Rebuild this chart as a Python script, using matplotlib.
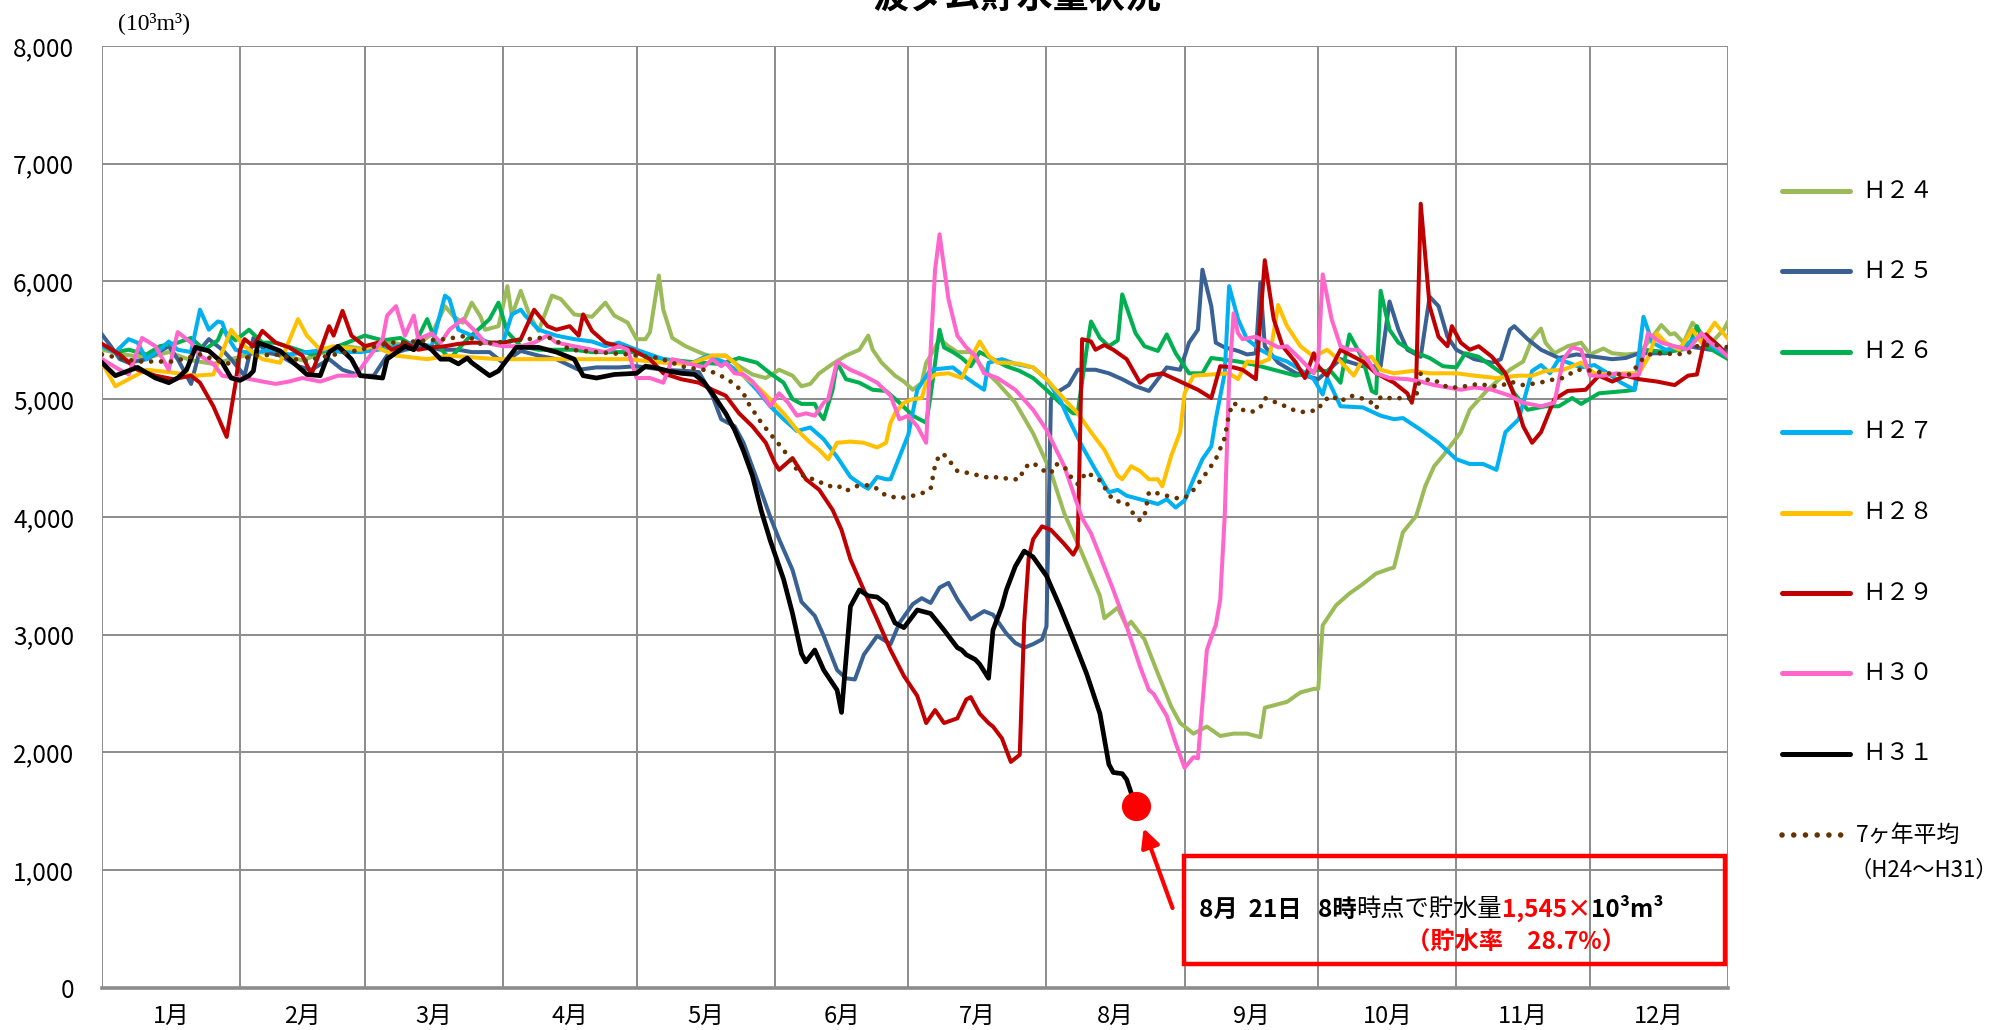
import matplotlib
matplotlib.use('Agg')
import matplotlib.pyplot as plt
from matplotlib.lines import Line2D
from matplotlib.patches import Rectangle
from matplotlib.ticker import FuncFormatter
import numpy as np

# フォント設定
plt.rcParams['font.family'] = ['Noto Sans CJK JP', 'DejaVu Sans']
plt.rcParams['axes.unicode_minus'] = False

# ---- データ (日 = 1月1日からの日数, 貯水量 10^3 m^3) ----
month_labels = ['1月', '2月', '3月', '4月', '5月', '6月', '7月', '8月', '9月', '10月', '11月', '12月']
month_days = [31, 28, 31, 30, 31, 30, 31, 31, 30, 31, 30, 31]

h24 = [(0,5420),(5,5380),(10,5350),(15,5400),(20,5330),(25,5300),(30,5350),(35,5400),(40,5380),(45,5330),
       (50,5400),(55,5450),(60,5420),(65,5480),(70,5450),(74,5550),(77,5790),(79,5700),(81,5650),(83,5820),
       (85,5700),(86,5590),(89,5620),(90,5790),(91,5960),(92,5710),(94,5920),(96,5710),(98,5580),(101,5880),
       (103,5850),(106,5720),(108,5710),(110,5700),(113,5820),(115,5710),(118,5650),(120,5510),(122,5510),(123,5570),
       (125,6050),(126,5760),(128,5520),(131,5450),(134,5400),(136,5370),(140,5370),(143,5280),(146,5210),(149,5180),
       (152,5250),(155,5200),(157,5110),(159,5130),(161,5220),(164,5300),(167,5370),(170,5420),(172,5540),(173,5420),
       (175,5310),(178,5200),(180,5150),(182,5080),(184,5140),(185,5310),(186,5370),(188,5510),(190,5450),(192,5400),
       (195,5400),(198,5250),(201,5140),(205,4970),(209,4710),(213,4380),(216,4030),(220,3690),(224,3330),(225,3140),
       (228,3230),(230,3070),(231,3110),(234,2960),(237,2670),(240,2390),(242,2250),(245,2160),(248,2220),(251,2140),
       (254,2160),(257,2160),(260,2130),(261,2380),(263,2400),(266,2430),(269,2510),(272,2540),(273,2540),(274,3080),
       (277,3250),(280,3350),(283,3430),(286,3520),(289,3560),(290,3570),(292,3870),(295,4010),(297,4260),(299,4430),
       (301,4520),(305,4720),(307,4910),(311,5080),(316,5250),(319,5320),(321,5510),(323,5600),(324,5480),(326,5390),
       (329,5450),(332,5480),(334,5380),(337,5430),(339,5390),(342,5380),(345,5390),(348,5530),(350,5630),(352,5550),
       (353,5560),(355,5480),(357,5650),(359,5560),(361,5450),(362,5510),(364,5590),(365,5660)]

h25 = [(0,5550),(2,5450),(4,5340),(6,5310),(10,5340),(15,5450),(17,5340),(20,5130),(22,5420),(24,5510),
       (27,5420),(29,5340),(32,5200),(34,5520),(37,5400),(40,5370),(44,5280),(47,5250),(51,5340),(54,5250),
       (58,5200),(61,5200),(64,5370),(68,5420),(73,5450),(76,5420),(80,5420),(83,5400),(87,5400),(90,5310),
       (94,5410),(98,5370),(102,5340),(107,5250),(111,5270),(116,5270),(120,5280),(126,5250),(131,5240),(134,5230),
       (137,5030),(139,4830),(142,4770),(144,4630),(147,4320),(150,4000),(152,3810),(155,3550),(157,3280),(160,3160),
       (162,2990),(165,2700),(167,2630),(169,2620),(171,2830),(174,2990),(177,2920),(179,3100),(182,3260),(184,3310),
       (186,3270),(188,3400),(190,3440),(192,3300),(195,3130),(198,3200),(200,3170),(203,3010),(205,2930),(207,2890),
       (209,2920),(211,2960),(212,3070),(213,5000),(214,5050),(217,5120),(219,5250),(223,5250),(226,5220),(229,5170),
       (232,5110),(235,5070),(237,5170),(239,5270),(242,5250),(244,5480),(246,5590),(247,6100),(249,5790),(250,5480),
       (252,5440),(255,5410),(257,5380),(259,5390),(260,5990),(261,5450),(264,5310),(268,5220),(273,5170),(278,5340),
       (283,5280),(287,5280),(289,5830),(291,5590),(293,5420),(296,5360),(298,5870),(300,5790),(302,5530),(304,5420),
       (308,5340),(312,5310),(314,5340),(316,5590),(317,5620),(320,5510),(323,5420),(327,5350),(331,5380),(335,5360),
       (339,5340),(342,5350),(345,5390),(351,5390),(356,5450),(361,5420),(365,5420)]

h26 = [(0,5450),(3,5400),(6,5420),(10,5380),(13,5450),(17,5480),(20,5520),(23,5420),(26,5500),(27,5590),
       (30,5500),(33,5590),(36,5480),(39,5480),(44,5420),(47,5380),(51,5420),(55,5480),(59,5540),(63,5500),
       (67,5520),(70,5450),(73,5680),(75,5480),(78,5340),(82,5510),(85,5610),(87,5680),(89,5820),(91,5570),
       (94,5450),(98,5420),(102,5420),(106,5420),(110,5400),(114,5400),(119,5400),(126,5340),(134,5310),(139,5300),
       (143,5350),(147,5310),(150,5220),(153,5140),(155,5000),(157,4960),(160,4960),(161,4880),(162,4830),(164,5080),
       (165,5310),(167,5170),(170,5140),(173,5080),(176,5070),(179,4970),(182,4860),(185,4800),(186,5030),(188,5590),
       (189,5440),(191,5400),(193,5350),(195,5280),(197,5400),(200,5340),(203,5280),(206,5240),(209,5180),(212,5080),
       (215,4970),(218,4880),(219,4880),(221,5420),(222,5660),(224,5520),(226,5450),(228,5500),(229,5890),(232,5560),
       (234,5450),(237,5410),(239,5550),(241,5390),(244,5220),(247,5220),(249,5350),(251,5340),(255,5320),(259,5290),
       (263,5250),(268,5200),(273,5250),(276,5230),(278,5140),(280,5550),(283,5340),(285,5070),(286,5050),(287,5920),
       (289,5590),(291,5480),(294,5410),(298,5350),(301,5280),(304,5270),(306,5390),(309,5360),(312,5280),(315,5200),
       (317,5050),(320,4910),(324,4940),(327,4940),(330,5010),(332,4960),(336,5050),(342,5070),(344,5080),(346,5420),
       (351,5400),(356,5430),(358,5620),(360,5450),(365,5340)]

h27 = [(0,5450),(3,5400),(6,5510),(8,5480),(10,5340),(13,5420),(15,5490),(17,5420),(20,5400),(22,5760),
       (24,5590),(26,5660),(27,5650),(28,5540),(30,5420),(32,5400),(35,5400),(38,5420),(42,5380),(46,5400),
       (50,5420),(54,5400),(58,5400),(62,5420),(66,5450),(70,5480),(74,5450),(77,5880),(78,5850),(80,5590),
       (83,5540),(87,5480),(90,5480),(92,5720),(94,5760),(95,5710),(98,5590),(102,5540),(106,5510),(110,5490),
       (113,5450),(116,5480),(120,5420),(126,5340),(132,5300),(136,5370),(140,5310),(144,5200),(147,5080),(150,4940),
       (153,4830),(156,4730),(159,4760),(162,4660),(165,4510),(168,4340),(171,4260),(172,4240),(174,4340),(176,4320),
       (177,4320),(179,4510),(181,4700),(183,5080),(186,5250),(191,5270),(193,5210),(196,5130),(198,5080),(199,5310),
       (202,5340),(205,5300),(209,5270),(212,5170),(215,5000),(217,4830),(220,4600),(223,4400),(226,4210),(228,4230),
       (230,4180),(233,4150),(237,4110),(239,4150),(241,4080),(243,4140),(245,4320),(247,4490),(249,4600),(250,4830),
       (252,5220),(253,5960),(255,5680),(257,5510),(260,5420),(263,5360),(266,5320),(269,5250),(272,5170),(274,5040),
       (275,5180),(278,4940),(283,4930),(287,4860),(290,4830),(292,4840),(296,4740),(300,4630),(304,4490),(307,4450),
       (310,4450),(313,4400),(315,4720),(318,4830),(321,5240),(323,5290),(325,5220),(327,5340),(332,5270),(335,5290),
       (338,5220),(341,5140),(344,5080),(346,5700),(348,5480),(351,5420),(355,5450),(358,5530),(361,5460),(365,5360)]

h28 = [(0,5310),(3,5110),(6,5170),(10,5250),(15,5230),(21,5200),(25,5210),(29,5590),(32,5450),(36,5340),
       (40,5310),(44,5680),(46,5540),(49,5420),(52,5450),(58,5420),(61,5450),(66,5370),(73,5340),(78,5370),
       (85,5350),(89,5340),(94,5340),(102,5340),(110,5340),(118,5340),(126,5310),(132,5300),(137,5370),(140,5370),
       (142,5310),(144,5200),(147,5110),(150,5000),(153,4880),(156,4740),(159,4630),(161,4570),(163,4490),(165,4630),
       (168,4640),(171,4630),(174,4590),(176,4630),(177,4800),(178,4880),(180,4970),(182,5000),(184,5010),(185,5140),
       (187,5210),(190,5220),(193,5180),(195,5340),(197,5490),(199,5370),(201,5310),(203,5310),(206,5300),(209,5270),
       (212,5170),(216,5000),(219,4880),(222,4720),(225,4570),(228,4350),(229,4320),(231,4430),(233,4390),(235,4320),
       (237,4320),(238,4260),(240,4520),(242,4720),(243,5050),(245,5200),(249,5210),(253,5220),(255,5170),(257,5320),
       (260,5310),(262,5340),(264,5800),(266,5620),(269,5450),(272,5360),(275,5420),(278,5320),(281,5200),(283,5340),
       (285,5360),(287,5250),(290,5220),(294,5240),(298,5220),(304,5220),(308,5200),(313,5180),(318,5200),(321,5200),
       (324,5240),(328,5250),(332,5310),(335,5220),(339,5210),(342,5220),(345,5220),(347,5350),(349,5560),(351,5480),
       (354,5420),(357,5590),(359,5480),(362,5650),(365,5510)]

h29 = [(0,5470),(4,5380),(8,5250),(12,5200),(16,5170),(20,5200),(22,5140),(25,4940),(28,4680),(30,5140),
       (31,5420),(32,5510),(34,5450),(36,5580),(39,5480),(42,5440),(45,5370),(47,5210),(49,5410),(51,5620),
       (52,5540),(54,5750),(56,5540),(59,5450),(63,5490),(65,5420),(67,5450),(68,5480),(71,5420),(74,5440),
       (77,5450),(80,5470),(83,5480),(87,5480),(90,5480),(94,5510),(97,5760),(100,5620),(102,5590),(105,5620),
       (107,5540),(108,5720),(110,5580),(113,5480),(116,5450),(119,5420),(123,5340),(126,5220),(130,5170),(134,5140),
       (137,5080),(140,5030),(143,4880),(146,4770),(149,4630),(151,4460),(152,4400),(155,4500),(158,4320),(161,4230),
       (164,4060),(166,3890),(168,3640),(171,3380),(174,3130),(177,2870),(180,2650),(183,2480),(185,2250),(187,2360),
       (189,2250),(192,2290),(194,2450),(195,2470),(197,2330),(199,2250),(200,2220),(202,2120),(204,1920),(206,1980),
       (207,3100),(208,3650),(209,3810),(211,3920),(213,3890),(216,3770),(218,3680),(219,3750),(220,5510),(222,5490),
       (223,5420),(225,5460),(227,5420),(230,5340),(233,5140),(235,5200),(238,5220),(242,5150),(246,5080),(249,5010),
       (251,5280),(254,5270),(256,5250),(259,5170),(261,6180),(263,5680),(265,5450),(268,5310),(270,5180),(272,5390),
       (273,5280),(275,5200),(278,5420),(280,5380),(283,5320),(286,5220),(290,5140),(293,5050),(294,4970),(295,5170),
       (296,6660),(298,5790),(300,5530),(302,5450),(303,5620),(305,5480),(307,5420),(309,5450),(312,5360),(315,5220),
       (317,5030),(319,4770),(321,4630),(323,4720),(326,5000),(329,5070),(333,5080),(336,5200),(339,5150),(342,5200),
       (345,5170),(349,5150),(353,5120),(356,5200),(358,5210),(360,5550),(363,5450),(365,5360)]

h30 = [(0,5340),(4,5250),(6,5210),(9,5520),(12,5450),(15,5250),(17,5570),(20,5480),(22,5370),(25,5300),
       (27,5200),(30,5180),(32,5180),(36,5150),(39,5130),(42,5150),(45,5180),(49,5150),(53,5200),(57,5200),
       (59,5310),(63,5510),(64,5710),(66,5790),(68,5540),(70,5710),(71,5510),(74,5560),(76,5480),(78,5590),
       (81,5680),(84,5570),(86,5480),(90,5450),(94,5450),(97,5480),(100,5540),(102,5480),(106,5450),(110,5420),
       (113,5400),(116,5450),(118,5420),(120,5180),(123,5180),(126,5140),(128,5340),(131,5310),(135,5270),(137,5340),
       (139,5280),(140,5310),(142,5220),(144,5210),(146,5150),(149,5000),(150,4940),(152,5050),(154,4970),(156,4860),
       (158,4880),(160,4860),(162,4970),(163,5000),(165,5320),(168,5250),(171,5200),(174,5140),(177,5030),(179,4830),
       (181,4860),(183,4770),(185,4630),(186,5420),(187,6100),(188,6400),(190,5850),(192,5540),(194,5440),(196,5370),
       (198,5220),(201,5180),(205,5080),(209,4910),(212,4740),(216,4430),(220,3990),(222,3860),(224,3670),(227,3380),
       (230,3070),(233,2730),(235,2530),(236,2500),(239,2310),(241,2080),(243,1870),(245,1960),(246,1950),(248,2870),
       (249,2980),(250,3080),(251,3300),(252,4000),(253,5170),(254,5730),(255,5560),(256,5510),(259,5530),(262,5480),
       (264,5440),(266,5450),(269,5340),(272,5220),(273,5340),(274,6060),(276,5680),(278,5450),(280,5420),(282,5420),
       (284,5340),(286,5220),(289,5180),(293,5170),(296,5150),(299,5120),(302,5100),(305,5080),(308,5100),(312,5080),
       (316,5030),(319,4970),(323,4940),(326,4970),(328,5340),(330,5440),(332,5420),(334,5200),(337,5200),(340,5220),
       (343,5200),(345,5210),(347,5560),(350,5480),(353,5450),(356,5420),(359,5560),(361,5480),(363,5430),(365,5360)]

h31 = [(0,5310),(3,5200),(8,5270),(12,5180),(15,5140),(17,5180),(19,5250),(21,5440),(24,5410),(27,5310),
       (29,5180),(31,5160),(33,5200),(34,5240),(35,5480),(38,5440),(40,5410),(43,5310),(46,5210),(49,5200),
       (51,5400),(53,5450),(56,5340),(58,5200),(63,5180),(64,5340),(68,5450),(70,5420),(71,5490),(74,5420),
       (76,5340),(78,5340),(80,5300),(82,5350),(83,5310),(87,5200),(89,5240),(93,5440),(98,5440),(102,5400),
       (106,5340),(108,5200),(111,5180),(115,5210),(120,5220),(122,5280),(124,5270),(127,5240),(130,5220),(133,5210),
       (135,5150),(137,5050),(140,4880),(142,4740),(144,4560),(146,4350),(148,4050),(150,3800),(153,3470),(155,3180),
       (157,2840),(158,2770),(160,2870),(162,2700),(165,2530),(166,2340),(168,3240),(170,3380),(172,3330),(174,3320),
       (176,3260),(178,3100),(180,3060),(183,3210),(186,3180),(189,3040),(192,2890),(193,2870),(194,2830),(196,2790),
       (197,2750),(199,2630),(200,3040),(202,3240),(203,3380),(205,3580),(207,3710),(209,3660),(212,3500),(215,3240),
       (218,2960),(221,2670),(224,2330),(226,1900),(227,1830),(229,1820),(230,1770),(232,1545)]

avg7 = [(0,5380),(8,5320),(16,5320),(22,5380),(28,5300),(34,5370),(40,5380),(45,5320),(51,5370),(58,5420),
        (65,5480),(70,5490),(77,5510),(82,5540),(85,5470),(91,5490),(98,5520),(101,5520),(105,5420),(111,5400),
        (118,5380),(125,5350),(131,5270),(135,5250),(138,5220),(142,5130),(144,5050),(145,4970),(148,4800),(151,4660),
        (153,4570),(156,4400),(158,4330),(160,4320),(163,4260),(165,4270),(167,4220),(169,4260),(172,4270),(174,4240),
        (176,4180),(179,4160),(181,4170),(184,4200),(186,4240),(187,4440),(188,4530),(189,4530),(191,4440),(192,4390),
        (195,4370),(198,4340),(200,4330),(201,4340),(204,4320),(206,4320),(207,4420),(209,4460),(211,4400),(213,4370),
        (214,4450),(216,4430),(217,4360),(219,4280),(221,4380),(224,4310),(227,4140),(230,4120),(231,4050),(233,3970),
        (234,4010),(235,4210),(236,4210),(238,4190),(241,4160),(243,4160),(245,4230),(248,4380),(250,4490),(252,4670),
        (253,4880),(254,4970),(256,4910),(258,4890),(260,4930),(261,5010),(263,4980),(265,4950),(268,4900),(270,4890),
        (273,4910),(274,4980),(276,5030),(278,4980),(280,5030),(282,5020),(285,4970),(286,4920),(287,5020),(289,5010),
        (291,5010),(293,5000),(295,5030),(296,5220),(298,5150),(300,5150),(302,5100),(304,5100),(306,5110),(309,5130),
        (312,5110),(314,5110),(316,5150),(319,5120),(321,5130),(324,5150),(326,5170),(328,5180),(331,5250),(333,5250),
        (336,5230),(338,5220),(341,5210),(343,5210),(346,5350),(348,5390),(351,5390),(353,5380),(356,5390),(358,5450),
        (360,5460),(363,5460),(365,5440)]

series_names = ['Ｈ２４', 'Ｈ２５', 'Ｈ２６', 'Ｈ２７', 'Ｈ２８', 'Ｈ２９', 'Ｈ３０', 'Ｈ３１']
series_data = [h24, h25, h26, h27, h28, h29, h30, h31]
series_colors = ['#9BBB59', '#3A6193', '#00B050', '#00B0F0', '#FFC000', '#C00000', '#FF66CC', '#000000']

latest_day, latest_value = h31[-1]
latest_rate = 28.7

# ---- 図 ----
fig = plt.figure(figsize=(19.99, 10.30), dpi=100)
ax = fig.add_axes([0.051, 0.0408, 0.8135, 0.9146])

for name, data, color in zip(series_names, series_data, series_colors):
    d, v = zip(*data)
    lw = 3.4 if color == '#000000' else 2.9
    ax.plot(d, v, color=color, lw=lw, solid_joinstyle='round', zorder=3)

d, v = zip(*avg7)
ax.plot(d, v, color='#663300', lw=3.4, linestyle=(0, (0.01, 2.1)), dash_capstyle='round', zorder=4)

# 最新値
ax.plot(latest_day, latest_value, 'o', color='#FF0000', markersize=20, zorder=6)

# 軸
month_starts = np.concatenate([[0], np.cumsum(month_days)])
month_mids = (month_starts[:-1] + month_starts[1:]) / 2
ax.set_xlim(0, 365)
ax.set_ylim(0, 8000)
ax.set_xticks(month_starts)
ax.set_xticklabels([])
ax.set_xticks(month_mids, minor=True)
ax.set_xticklabels(month_labels, minor=True)
ax.tick_params(axis='x', which='both', length=0, pad=12, labelsize=17)
ax.set_yticks(np.arange(0, 8001, 1000))
ax.yaxis.set_major_formatter(FuncFormatter(lambda val, pos: f'{val:,.0f}'))
ax.tick_params(axis='y', length=0, pad=20, labelsize=17.5)
ax.grid(True, which='major', color='#8C8C8C', lw=1.4, zorder=0)
ax.set_axisbelow(True)
for s in ['left', 'right', 'top']:
    ax.spines[s].set_visible(False)
ax.spines['bottom'].set_color('#8C8C8C')
ax.spines['bottom'].set_linewidth(2.6)

# タイトル (上端で切れている)
fig.text(1017 / 1999, 1 - 8 / 1030, '波ダム貯水量状況', ha='center', va='baseline',
         fontsize=26, fontweight='bold')
fig.text(154 / 1999, 1 - 23 / 1030, '(10³m³)', ha='center', va='center', fontsize=17,
         family=['Liberation Serif', 'DejaVu Serif'])

# 凡例
for i, (name, color) in enumerate(zip(series_names, series_colors)):
    yf = 1 - (191 + 80.4 * i) / 1030
    fig.add_artist(Line2D([1782 / 1999, 1850 / 1999], [yf, yf], color=color, lw=3.6,
                          solid_capstyle='round'))
    fig.text(1862 / 1999, yf, name, ha='left', va='center', fontsize=17)
yf = 1 - 835 / 1030
fig.add_artist(Line2D([1782 / 1999, 1846 / 1999], [yf, yf], color='#663300', lw=4.0,
                      linestyle=(0, (0.01, 2.1)), dash_capstyle='round'))
fig.text(1856 / 1999, yf, '7ヶ年平均', ha='left', va='center', fontsize=16.5)
fig.text(1850 / 1999, 1 - 870 / 1030, '（H24〜H31）', ha='left', va='center', fontsize=16)

# 注記ボックス
fig.add_artist(Rectangle((1184 / 1999, 1 - 964 / 1030), 541 / 1999, 108 / 1030,
                         transform=fig.transFigure, fill=False, edgecolor='#FF0000', lw=3.2))

pieces = [('8月  21日   8時', 'black', 'bold'),
          ('時点で貯水量', 'black', 'normal'),
          (f'{latest_value:,}', '#FF0000', 'bold'),
          ('×', '#FF0000', 'bold'),
          ('10³m³', 'black', 'bold')]
prev = fig.text(1199 / 1999, 1 - 917 / 1030, pieces[0][0], color=pieces[0][1],
                fontweight=pieces[0][2], fontsize=17.5, ha='left', va='baseline')
for text, color, weight in pieces[1:]:
    prev = ax.annotate(text, xy=(1, 0), xycoords=prev, ha='left', va='bottom',
                       color=color, fontweight=weight, fontsize=17.5)
fig.text(1516 / 1999, 1 - 943 / 1030, f'（貯水率　{latest_rate}%）', color='#FF0000',
         fontweight='bold', fontsize=17.5, ha='center', va='center')

ax.annotate('', xy=(latest_day, latest_value), xytext=(26.6, -73.4), textcoords='offset points',
            arrowprops=dict(arrowstyle='-|>', color='#FF0000', lw=3, mutation_scale=28,
                            shrinkA=0, shrinkB=17))

fig.savefig('out.png', dpi=100, facecolor='white')
